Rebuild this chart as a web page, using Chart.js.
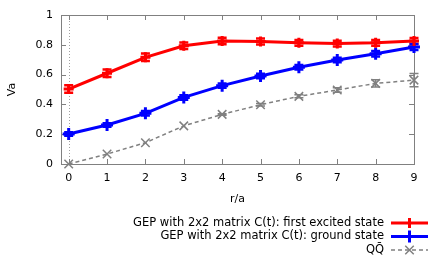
<!DOCTYPE html>
<html><head><meta charset="utf-8">
<script src="https://cdn.jsdelivr.net/npm/chart.js@4/dist/chart.umd.min.js"></script>
<style>html,body{margin:0;padding:0;background:#fff}#wrap{width:436px;height:262px}</style>
</head><body><div id="wrap"><canvas id="c" width="436" height="262"></canvas></div>
<script>
const rOverA = [0, 1, 2, 3, 4, 5, 6, 7, 8, 9];
const excited = [0.503, 0.609, 0.716, 0.794, 0.826, 0.822, 0.813, 0.808, 0.813, 0.826];
const excitedErr = [0.025, 0.025, 0.025, 0.022, 0.022, 0.02, 0.02, 0.02, 0.02, 0.02];
const ground = [0.201, 0.262, 0.340, 0.447, 0.526, 0.591, 0.649, 0.698, 0.740, 0.785];
const groundErr = [0.012, 0.012, 0.015, 0.015, 0.015, 0.015, 0.015, 0.015, 0.018, 0.02];
const qqbar = [0.0, 0.067, 0.143, 0.256, 0.333, 0.398, 0.454, 0.497, 0.541, 0.563];
const qqbarErr = [0.0, 0.0, 0.0, 0.0, 0.005, 0.008, 0.01, 0.015, 0.025, 0.045];
const xTicks = [0, 1, 2, 3, 4, 5, 6, 7, 8, 9];
const yTicks = [0, 0.2, 0.4, 0.6, 0.8, 1];
const seriesLabels = [
  'GEP with 2x2 matrix C(t): first excited state',
  'GEP with 2x2 matrix C(t): ground state',
  'QQ\u0304'
];
const xTitle = 'r/a';
const yTitle = 'Va';

const FONT = '"DejaVu Sans", sans-serif';
const BORDER = '#808080';

function pts(ys) { return rOverA.map((x, i) => ({ x: x, y: ys[i] })); }

const errs = [excitedErr, groundErr, qqbarErr];
const vals = [excited, ground, qqbar];

const frame = {
  id: 'frame',
  beforeDatasetsDraw(chart) {
    const { ctx, chartArea: a, scales: { x, y } } = chart;
    ctx.save();
    ctx.strokeStyle = '#a0a0a0';
    ctx.lineWidth = 1;
    ctx.setLineDash([1, 2]);
    const x0 = Math.round(x.getPixelForValue(0)) + 0.5;
    ctx.beginPath(); ctx.moveTo(x0, a.top); ctx.lineTo(x0, a.bottom); ctx.stroke();
    ctx.setLineDash([]);
    ctx.strokeStyle = BORDER;
    ctx.strokeRect(Math.round(a.left) + 0.5, Math.round(a.top) + 0.5, Math.round(a.right - a.left), Math.round(a.bottom - a.top));
    const tl = 5;
    ctx.beginPath();
    xTicks.forEach(v => {
      const px = Math.round(x.getPixelForValue(v)) + 0.5;
      ctx.moveTo(px, a.bottom); ctx.lineTo(px, a.bottom - tl);
      ctx.moveTo(px, a.top); ctx.lineTo(px, a.top + tl);
    });
    yTicks.forEach(v => {
      const py = Math.round(y.getPixelForValue(v)) + 0.5;
      ctx.moveTo(a.left, py); ctx.lineTo(a.left + tl, py);
      ctx.moveTo(a.right, py); ctx.lineTo(a.right - tl, py);
    });
    ctx.stroke();
    chart.data.datasets.forEach((ds, di) => {
      const e = errs[di];
      ctx.strokeStyle = ds.borderColor;
      ctx.lineWidth = di === 2 ? 1.5 : 2.5;
      ctx.beginPath();
      rOverA.forEach((xv, i) => {
        if (!e[i]) return;
        const px = x.getPixelForValue(xv);
        const yt = y.getPixelForValue(vals[di][i] + e[i]);
        const yb = y.getPixelForValue(vals[di][i] - e[i]);
        ctx.moveTo(px, yt); ctx.lineTo(px, yb);
        ctx.moveTo(px - 4.5, yt); ctx.lineTo(px + 4.5, yt);
        ctx.moveTo(px - 4.5, yb); ctx.lineTo(px + 4.5, yb);
      });
      ctx.stroke();
    });
    ctx.restore();
  },
  afterDraw(chart) {
    const { ctx, chartArea: a } = chart;
    ctx.save();
    ctx.fillStyle = '#000';
    ctx.font = '11px ' + FONT;
    ctx.textAlign = 'center';
    ctx.textBaseline = 'middle';
    ctx.fillText(xTitle, (a.left + a.right) / 2, 199);
    ctx.save();
    ctx.translate(12, (a.top + a.bottom) / 2);
    ctx.rotate(-Math.PI / 2);
    ctx.fillText(yTitle, 0, 0);
    ctx.restore();
    ctx.font = '11.5px ' + FONT;
    const rows = [223, 236.5, 250];
    chart.data.datasets.forEach((ds, i) => {
      const yy = rows[i];
      ctx.fillStyle = '#000';
      ctx.textAlign = 'right';
      ctx.fillText(ds.label, 384, yy);
      ctx.strokeStyle = ds.borderColor;
      ctx.lineWidth = ds.borderWidth;
      ctx.setLineDash(ds.borderDash || []);
      ctx.beginPath(); ctx.moveTo(391, yy); ctx.lineTo(428, yy); ctx.stroke();
      ctx.setLineDash([]);
      ctx.lineWidth = ds.pointBorderWidth;
      const cx = 409.5, r = ds.pointRadius;
      ctx.beginPath();
      if (ds.pointStyle === 'crossRot') {
        const d = r * 0.7071;
        ctx.moveTo(cx - d, yy - d); ctx.lineTo(cx + d, yy + d);
        ctx.moveTo(cx - d, yy + d); ctx.lineTo(cx + d, yy - d);
      } else {
        ctx.moveTo(cx, yy - r); ctx.lineTo(cx, yy + r);
      }
      ctx.stroke();
    });
    ctx.restore();
  }
};

new Chart(document.getElementById('c'), {
  type: 'line',
  data: {
    datasets: [
      { label: seriesLabels[0], data: pts(excited), borderColor: '#ff0000', backgroundColor: '#ff0000',
        borderWidth: 3, pointStyle: 'cross', pointRadius: 5, pointBorderWidth: 3, fill: false, tension: 0 },
      { label: seriesLabels[1], data: pts(ground), borderColor: '#0000ff', backgroundColor: '#0000ff',
        borderWidth: 3, pointStyle: 'cross', pointRadius: 6, pointBorderWidth: 3, fill: false, tension: 0 },
      { label: seriesLabels[2], data: pts(qqbar), borderColor: '#808080', backgroundColor: '#808080',
        borderWidth: 1.5, borderDash: [4, 3], pointStyle: 'crossRot', pointRadius: 6, pointBorderWidth: 1.5, fill: false, tension: 0 }
    ]
  },
  options: {
    responsive: false,
    animation: false,
    devicePixelRatio: 1,
    clip: false,
    layout: { padding: { top: 15, right: 22, left: 0, bottom: 0 } },
    plugins: { legend: { display: false }, tooltip: { enabled: false } },
    scales: {
      x: {
        type: 'linear', min: -0.2, max: 9,
        afterFit(s) { s.height = 98; },
        afterBuildTicks(s) { s.ticks = xTicks.map(v => ({ value: v })); },
        grid: { display: false, drawTicks: false },
        border: { display: false },
        ticks: { color: '#000', padding: 8, maxRotation: 0, autoSkip: false, font: { family: FONT, size: 11 } }
      },
      y: {
        type: 'linear', min: 0, max: 1,
        afterFit(s) { s.width = 61; },
        afterBuildTicks(s) { s.ticks = yTicks.map(v => ({ value: v })); },
        grid: { display: false, drawTicks: false },
        border: { display: false },
        ticks: { color: '#000', padding: 8, font: { family: FONT, size: 11 }, callback: v => String(Math.round(v * 10) / 10) }
      }
    }
  },
  plugins: [frame]
});
</script>
</body></html>
